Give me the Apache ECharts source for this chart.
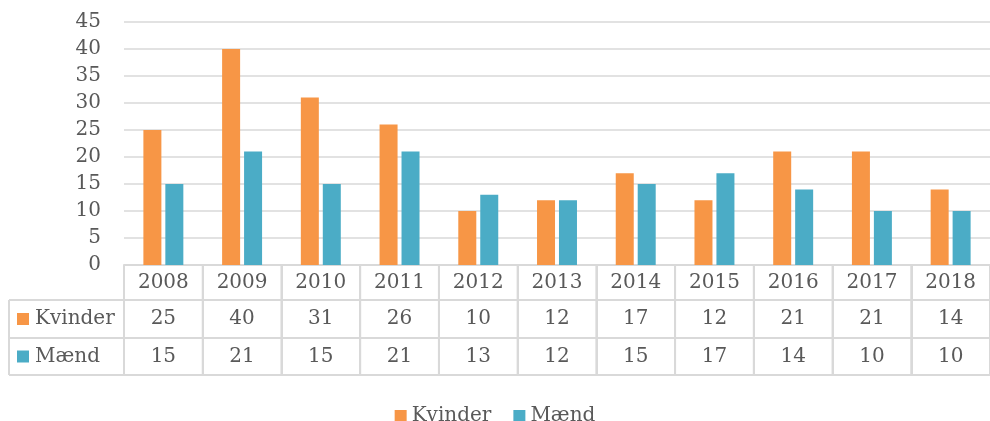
<!DOCTYPE html>
<html>
<head>
<meta charset="utf-8">
<script src="https://cdn.jsdelivr.net/npm/echarts@6/dist/echarts.min.js"></script>
<style>html,body{margin:0;padding:0;background:#fff}#c{width:990px;height:421px}</style>
</head>
<body>
<div id="c"></div>
<script>
const years = ['2008','2009','2010','2011','2012','2013','2014','2015','2016','2017','2018'];
const kvinder = [25, 40, 31, 26, 10, 12, 17, 12, 21, 21, 14];
const maend = [15, 21, 15, 21, 13, 12, 15, 17, 14, 10, 10];
const seriesNames = ['Kvinder', 'Mænd'];
const colors = ['#F79646', '#4BACC6'];
const yTicks = [0, 5, 10, 15, 20, 25, 30, 35, 40, 45];

const FONT = 'DejaVu Serif';
const TXT = '#595959';
const LINE = '#d9d9d9';
const ROW1 = 35, ROW2 = 73, ROW3 = 110; // table row bottoms below baseline

const chart = echarts.init(document.getElementById('c'), null, {renderer: 'canvas'});

function valueAxis(data, margin) {
  return {
    type: 'category', data: data, position: 'bottom', gridIndex: 0,
    axisLine: {show: false}, axisTick: {show: false},
    axisLabel: {interval: 0, margin: margin, verticalAlign: 'middle',
      fontFamily: FONT, fontSize: 20, color: TXT}
  };
}

chart.setOption({
  animation: false,
  color: colors,
  grid: {left: 124, top: 22, width: 871, height: 243, containLabel: false},
  legend: {
    top: 401, left: 'center', itemWidth: 12, itemHeight: 12, itemGap: 22,
    icon: 'rect', data: seriesNames,
    textStyle: {fontFamily: FONT, fontSize: 20, color: TXT}
  },
  xAxis: [
    {
      type: 'category', data: years, gridIndex: 0, boundaryGap: true,
      axisLine: {show: true, lineStyle: {color: LINE, width: 2}},
      axisTick: {show: true, alignWithLabel: false, interval: 0, inside: false, length: ROW3, lineStyle: {color: LINE, width: 2}},
      axisLabel: {interval: 0, margin: 18, verticalAlign: 'middle',
        fontFamily: FONT, fontSize: 20, color: TXT}
    },
    valueAxis(kvinder.map(String), (ROW1 + ROW2) / 2),
    valueAxis(maend.map(String), (ROW2 + ROW3) / 2)
  ],
  yAxis: {
    type: 'value', min: yTicks[0], max: yTicks[yTicks.length - 1], interval: 5,
    axisLine: {show: false}, axisTick: {show: false},
    axisLabel: {margin: 23, fontFamily: FONT, fontSize: 20, color: TXT},
    splitLine: {lineStyle: {color: LINE, width: 1.5}}
  },
  series: [
    {name: seriesNames[0], type: 'bar', data: kvinder, barWidth: 18, barGap: '22%'},
    {name: seriesNames[1], type: 'bar', data: maend, barWidth: 18, barGap: '22%'}
  ]
});

// Data table frame (derived from the grid geometry)
const base = chart.convertToPixel({yAxisIndex: 0}, 0);
const gridRect = chart.getModel().getComponent('grid', 0).coordinateSystem.getRect();
const left = 9, gl = gridRect.x, gr = gridRect.x + gridRect.width;
const catW = gridRect.width / years.length;
const g = [];
const ls = {stroke: LINE, lineWidth: 2};
[ROW1, ROW2, ROW3].forEach(function (r) {
  g.push({type: 'line', shape: {x1: left, y1: base + r, x2: gr, y2: base + r}, style: ls, silent: true});
});
g.push({type: 'line', shape: {x1: left, y1: base + ROW1, x2: left, y2: base + ROW3}, style: ls, silent: true});
// column separators of the table (category boundaries)
for (let i = 0; i <= years.length; i++) {
  const x = gl + i * catW;
  g.push({type: 'line', shape: {x1: x, y1: base, x2: x, y2: base + ROW3}, style: ls, silent: true});
}
const rowMid = [(ROW1 + ROW2) / 2, (ROW2 + ROW3) / 2];
seriesNames.forEach(function (n, i) {
  const cy = base + rowMid[i];
  g.push({type: 'rect', shape: {x: left + 8, y: cy - 6, width: 12, height: 12}, style: {fill: colors[i]}, silent: true});
  g.push({type: 'text', x: left + 26, y: cy, style: {text: n, fontFamily: FONT, fontSize: 20, fill: TXT, verticalAlign: 'middle', align: 'left'}, silent: true});
});
chart.setOption({graphic: g});
</script>
</body>
</html>
